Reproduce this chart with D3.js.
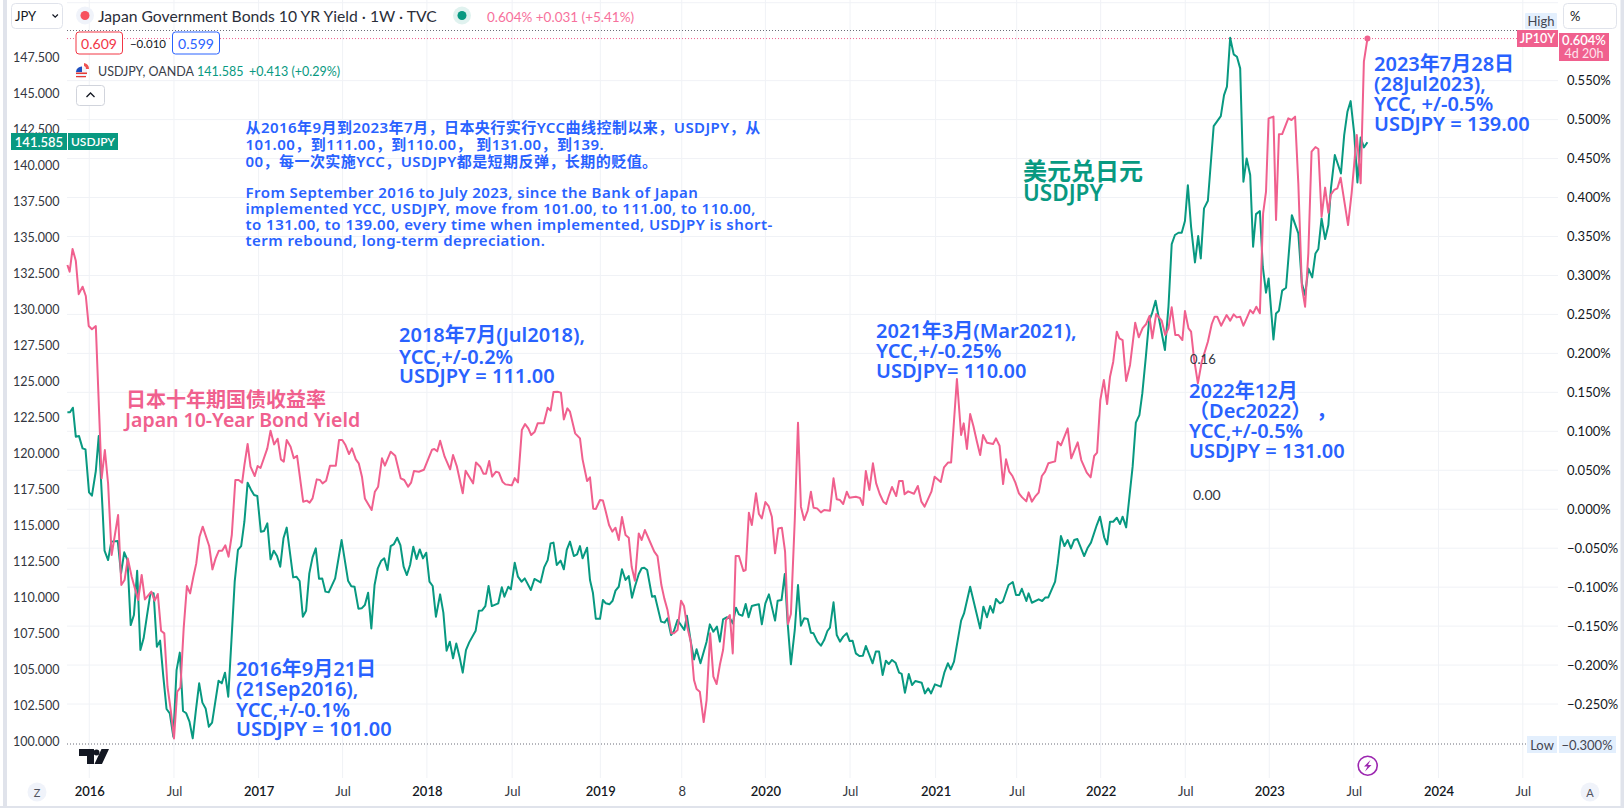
<!DOCTYPE html>
<html><head><meta charset="utf-8">
<script src="https://cdn.jsdelivr.net/npm/d3@7/dist/d3.min.js"></script>
<style>
html,body{margin:0;padding:0;background:#fff;overflow:hidden}
svg{display:block}
text{font-family:"Noto Sans","Noto Sans CJK SC",sans-serif}
</style></head><body><svg id="c" width="1624" height="808"></svg>
<script>
const jp10yWeeks=[0.4,1.1,2,3,3.9,5.1,6.1,7,8,9.2,11,12,13,14.1,16.1,17.1,18.1,19.1,20.3,22.3,23.4,24.4,26.4,27.4,28.4,29.4,30.4,31.4,32.4,33.4,34.4,35.4,36.4,37.4,38.4,39.4,40.3,41.3,42.3,44.3,45.3,46.3,47.3,48.3,49.3,50.3,51.3,52.4,53.4,54.5,55.2,56.2,57.1,58.4,59.3,60.2,62.3,63.3,64.4,65.5,66.5,67.4,68.3,69.5,70.5,71.5,73.4,74.5,75.4,76.3,77.6,78.6,79.4,80.5,81.7,83.5,84.5,85.5,86.5,87.6,88.5,89.7,90.6,91.6,92.5,94.6,95.6,96.6,97.8,98.7,100.5,101.9,103.6,104.7,105.9,106.8,107.7,109.2,110.8,112.2,113.3,114,114.9,115.8,117.2,118.9,119.8,121,122.8,123.7,126,126.9,128.2,129.2,130,131,131.9,133.1,134,135.1,136,138,138.9,139.9,141.1,142.1,143.1,144,145.1,146,147.9,149.1,150,150.9,152.1,153.2,154.1,155.2,156,157.6,159.1,159.9,161.3,162.2,163.2,164,165.3,166.2,167.1,168.1,169.1,170.1,171.1,172.1,173.2,174.2,175.1,176.1,177.3,178.2,179.2,180.1,182.1,183.1,184.3,185.2,186.2,187.4,188.2,189.3,190.4,191.3,192.3,193.4,194.4,195.2,196.2,197.4,198.3,199.4,200.4,201.4,202.4,203.4,204.3,205.5,206.4,207.3,208.3,209.7,210.4,211.4,212.3,213.6,214.5,215.4,216.5,217.5,218.5,219.5,220.5,221.6,222.6,223.5,224.4,225.6,226.6,227.5,228.5,229.6,230.6,231.4,232.5,233.7,234.7,236.5,237.6,238.6,239.6,240.6,241.7,242.5,244.5,245.8,246.7,247.6,248.7,249.8,250.8,251.9,253,253.9,254.8,255.7,257,257.9,259,259.6,260.7,262.5,263.7,264.8,265.8,267.9,268.9,270.8,271.8,273.1,274,275.8,277.1,277.9,278.9,279.9,280.9,282,283,283.9,285.1,287,287.9,289,290.1,291,292,293,293.9,295,296,297.3,298,299,300,301.1,302.1,303.1,304.1,306.2,307,308,310.1,311.2,313.2,314.3,316,317.2,318.3,319.2,320.2,321.3,322.3,323.2,324.2,325.3,326.1,327.1,328.2,329.4,331,332.1,333.3,334.4,335.4,336.3,337.5,339.2,340.3,341.3,342.3,343.4,344.4,345.6,346.4,347.5,348.3,349.2,350.4,351.6,353.5,354.7,355.6,356.4,357.6,359.3,360.4,361.5,362.4,363.5,364.5,365.5,366.6,367.5,368.5,369.6,370.6,371.5,372.3,373.8,374.6,375.5,376.5,378.4,379.4,380.5,381.5,382.6,383.6,384.6,385.6,386.8,387.7,388.7,389.8,390.8,391.5,392.6,393.6,394.6,396.9,398,399.6,400.8,401.8,402.9];
const jp10yValues=[.3134,.3048,.334,.319,.276,.2856,.2736,.2351,.2309,.2351,.0397,.076,.033,-.0588,-.0074,-.0973,-.0909,-.0631,-.0866,-.1165,-.0844,-.1157,-.1058,-.1174,-.1088,-.1559,-.1593,-.2278,-.2577,-.2941,-.2342,-.2286,-.1529,-.0986,-.108,-.0866,-.0695,-.0353,-.0224,-.0472,-.0772,-.0631,-.0532,-.0532,-.0464,-.0609,-.0331,.0375,.0375,.0341,.0567,.0837,.0546,.0426,.0554,.0529,.0781,.1008,.0832,.0905,.064,.061,.0888,.0803,.0653,.0687,.0097,.011,.0084,.0139,.0383,.0375,.0332,.0366,.0559,.0559,.0888,.0888,.0824,.0708,.0781,.064,.0589,.0418,.0139,-.001,.0225,.0289,.0653,.0559,.0738,.0687,.0396,.0375,.0289,.0341,.049,.0481,.0507,.0653,.0764,.0773,.0743,.088,.0674,.0512,.0696,.0546,.0204,.0495,.0332,.0601,.0546,.0456,.0456,.0619,.0418,.0482,.0469,.0353,.0319,.0306,.04,.0345,.1016,.1093,.1038,.0952,.0995,.1102,.1102,.1303,.1265,.1504,.1508,.1496,.1153,.1294,.1252,.0974,.0909,.064,.0362,.0409,.0007,.0003,.0118,.0113,-.0032,-.0203,-.0288,-.0237,-.0395,-.01,-.0331,-.0365,-.0738,-.0917,-.031,-.0395,-.0267,-.0353,-.0545,-.0601,-.0973,-.1144,-.1294,-.1593,-.1593,-.155,-.1174,-.1242,-.1508,-.17,-.2192,-.2307,-.2342,-.2731,-.2449,-.1593,-.2149,-.2243,-.2,-.1807,-.1422,-.1358,-.185,-.0601,-.0601,-.0793,-.078,-.0044,-.0203,.0204,-.0062,-.0117,.0092,.0041,-.0096,-.0566,-.0246,-.0237,-.0545,-.1473,-.1345,-.0139,.1111,.0033,-.0139,-.0019,.0225,.002,.0011,-.004,-.001,-.0019,.0396,.0127,.0118,.0067,.0225,.0148,.0161,.0144,.0054,.049,.0246,.0589,.0332,.0195,.0097,.0067,.0182,.0285,.0169,.0362,.0362,.0191,.0229,.0199,.0298,.0097,.0033,.0225,.0418,.0349,.0537,.0601,.0601,.1671,.0952,.1102,.0773,.1222,.1068,.0867,.0696,.0952,.0854,.0837,.0909,.0815,.0323,.064,.0482,.0426,.0341,.0204,.0152,.0101,.0216,.0097,.0161,.0212,.0426,.0482,.0589,.0614,.0867,.082,.1038,.0653,.0858,.0631,.0469,.0409,.0683,.0726,.1401,.1658,.135,.1701,.1893,.2278,.2193,.2171,.1645,.1851,.2394,.2206,.2325,.2377,.2479,.2193,.2505,.242,.2236,.2321,.2591,.2236,.2236,.2171,.2544,.2321,.2278,.1936,.1615,.1893,.215,.2377,.2471,.2471,.2355,.2492,.242,.2501,.2462,.2471,.2355,.245,.2556,.2514,.2599,.2514,.3797,.4075,.5016,.5038,.3712,.4811,.4815,.5016,.4995,.5038,.4182,.2856,.2599,.3284,.4589,.4648,.4623,.3754,.4127,.3806,.4032,.4097,.4118,.4255,.3647,.4054,.4803,.4182,.5744,.604];
const usdjpyWeeks=[0.4,1.2,2.1,3,4,5.1,6,7.1,8,9.2,10.1,11.3,11.9,13,14,16,17,18,19,20,21,22,23,24,25,26.1,27.1,28.1,29.1,30.1,31.1,32.1,33.2,34.2,35.2,36.2,37.2,38.2,39.2,40.2,41.2,42.2,43.2,44.2,45.2,46.2,47.2,48.2,49.2,50.2,51.2,52.2,53.2,54.2,55.2,56.2,57.2,58.2,59.2,60.3,61.3,62.3,63.3,64.3,65.3,66.3,67.3,68.3,70.3,71.3,72.3,73.3,74.3,75.3,76.3,77.3,78.3,79.3,80.3,81.3,83.3,85.3,87.3,88.3,89.3,90.5,91.5,92.5,93.5,94.5,95.5,96.5,97.5,98.5,99.5,100.5,101.5,102.5,103.5,104.5,105.5,106.5,107.5,108.5,109.5,110.5,111.5,112.5,113.5,114.5,115.8,116.8,117.8,118.8,119.8,120.8,121.8,122.8,123.8,124.8,126.8,127.8,128.8,129.8,130.8,131.8,133.8,134.9,135.7,136.9,137.7,138.9,139.9,141,142,143.9,145,146.9,148,149.1,150,150.9,151.9,153.1,154.1,155,156,157.2,158.2,159.1,159.9,161.3,162.2,163.1,164,165.3,166.2,167.1,168.2,169.2,170.1,171.1,172.1,173.2,174.2,175.2,176.1,177.3,178.2,179,179.9,181.4,182.3,184.2,185.3,186.2,187.3,188.1,189.3,191.4,192.2,193.4,194.4,195.2,196.4,198.3,199.3,200.4,201.5,202.4,203.4,204.5,205.5,206.4,207.4,208.3,209.4,210.4,211.3,212.3,213.4,214.5,215.4,216.5,217.6,219.5,220.3,221.5,222.5,223.4,224.4,225.6,226.6,227.5,228.5,229.6,230.6,231.4,232.6,233.7,234.7,235.7,236.5,237.6,238.6,239.6,240.6,241.7,242.6,243.5,244.5,245.6,246.7,247.6,249.7,250.7,251.7,252.8,253.8,254.7,255.7,256.8,257.9,258.7,259.7,260.9,261.9,262.9,264.9,265.9,266.9,267.8,269,270.8,271.9,273,273.9,274.9,277.1,278,279.9,283,284,285.1,286.1,287,287.9,289.1,290,291.8,293.1,294.1,295.1,295.9,297.3,298,299,301.1,302.2,303.2,304.1,306.2,307,308,309.1,310.1,311.1,312.1,313.1,315.2,316.3,317.3,319.1,320.1,321.4,322.3,323.2,324.2,325.3,326.3,327.1,328.2,330.2,331.2,332.3,333.2,334.3,335.3,336.2,337.3,340.2,341.3,342.3,343.3,344.4,345.4,346.4,347.3,348.3,349.5,350.5,351.3,352.3,353.5,355.3,357.5,358.5,359.4,360.4,361.5,362.5,363.5,364.5,365.5,366.6,367.5,368.4,369.6,370.5,371.5,372.3,373.8,374.6,375.5,376.5,377.7,379.5,381.5,382.6,383.6,384.6,385.8,386.8,387.7,388.7,389.8,390.8,391.6,392.8,394.7,395.7,396.7,397.7,398.8,399.8,400.8,401.8,402.9];
const usdjpyValues=[122.85,122.85,123.17,121.16,121.2,120.35,120.28,117.3,117.07,118.78,121.2,116.07,113.25,112.6,113.88,113.92,111.68,113.14,112.6,108.09,108.79,111.86,106.36,107.17,108.67,110.29,110.29,106.59,107.01,104.51,102.27,101.97,100.35,104.97,106.18,102.13,101.97,101.39,100.23,102.2,104.05,102.71,102.31,101.04,101.32,102.78,104.23,104.05,104.79,103.12,107.05,111.1,113.3,113.57,115.26,117.97,117.5,117.11,117.04,114.57,114.62,115.15,112.65,113.25,112.88,112.14,114.11,114.85,111.4,111.45,111.15,108.67,109.09,111.68,112.79,113.41,111.31,111.33,110.41,110.36,111.33,113.99,111.17,110.78,110.75,109.23,109.25,109.48,110.34,107.86,110.87,112.03,112.53,112.72,111.91,113.57,113.71,114.15,113.64,112.14,111.56,112.26,113.53,112.67,113.34,112.72,113.11,111.1,110.8,108.67,110.22,108.95,106.31,106.94,105.78,106.82,105.9,104.79,106.36,106.89,107.7,109.09,109.11,109.41,110.8,109.41,109.6,110.71,110.06,110.75,110.57,112.42,111.45,111.1,111.33,110.52,111.29,111.05,112.09,112.6,113.76,113.81,112.26,112.56,111.96,113.3,113.88,112.88,113,113.57,112.72,113.46,111.22,110.34,108.53,108.53,109.83,109.6,109.53,109.78,110.48,110.75,111.96,111.22,111.49,109.99,110.75,111.63,112.03,112.07,111.91,110.06,110.11,108.33,108.26,108.56,107.4,107.63,108.44,107.75,108.74,106.94,105.71,106.41,105.44,106.94,108.14,107.63,107.98,106.94,108.49,108.63,108.56,108.21,109.3,108.83,108.74,109.55,108.63,109.41,109.48,109.53,108.14,109.6,110.22,108.4,109.78,109.83,111.63,108.21,105.37,107.75,110.87,108.05,108.56,108.51,107.56,107.52,106.94,106.66,107.05,107.68,107.91,109.67,107.4,106.94,107.29,107.52,106.98,107.01,106.13,105.94,105.97,106.64,105.44,106.25,106.25,104.63,105.62,105.39,105.67,105.48,104.79,104.7,103.4,104.7,103.93,104.21,104.09,103.35,103.7,103.35,103.98,103.82,104.79,105.44,105.02,105.55,108.4,108.9,110.75,107.86,109.37,108.63,109.41,108.95,109.9,109.6,109.71,110.87,111.08,110.18,110.18,110.61,109.76,110.29,109.64,109.88,109.76,110.01,110.01,111.1,112.37,114.27,113.57,113.99,113.41,113.99,114.06,112.88,113.46,113.81,115.03,115.61,114.18,113.69,115.26,115.26,115.54,115.1,115.61,114.87,119.08,122.13,122.66,124.16,126.71,129.2,129.71,130.59,127.17,130.18,134.52,135.15,135.31,135.31,136.12,138.61,135.72,133.25,135.08,133.53,137,137.53,142.71,143.4,144.86,145.44,148.83,147.68,147.52,146.71,138.85,140.46,139.31,134.34,136.6,136.81,132.95,131.15,132.14,127.91,129.71,129.9,131.29,131.49,136.53,135.26,131.79,130.98,132.83,132.21,133.87,134.18,136.3,134.87,135.84,138.38,140.7,139.42,142.08,143.7,144.44,142.2,138.8,141.92,141.23,141.585];
const priceTicks=[100,102.5,105,107.5,110,112.5,115,117.5,120,122.5,125,127.5,130,132.5,135,137.5,140,142.5,145,147.5];
const yieldTicks=[0.55,0.5,0.45,0.4,0.35,0.3,0.25,0.2,0.15,0.1,0.05,0,-0.05,-0.1,-0.15,-0.2,-0.25];
const yieldGridExtra=[0.65];
const timeTickWeeks=[7.18,33.4,59.6,85.6,111.7,138.1,165.4,190.6,216.5,242.7,269.2,294.3,320.3,346.5,372.5,398.7,424.9,451];
const timeTickLabels=["2016","Jul","2017","Jul","2018","Jul","2019","8","2020","Jul","2021","Jul","2022","Jul","2023","Jul","2024","Jul"];
const yearLabels=new Set(["2016","2017","2018","2019","2020","2021","2022","2023","2024"]);

const svg=d3.select("#c");
const x=d3.scaleLinear().domain([0,451]).range([66.1,1522.8]);
const yL=d3.scaleLinear().domain([100,147.5]).range([741.7,57]);
const yR=d3.scaleLinear().domain([-0.3,0.5]).range([743,119.6]);
const PANE_L=67,PANE_R=1558,PANE_B=778;
const INK="#131722",GREEN="#089981",PINK="#f0608e",BLUE="#2962ff",GRID="#f0f2f6",STRIP="#e0e3eb",PILL="#e3effd";

svg.append("rect").attr("width",1624).attr("height",808).attr("fill","#fff");
// grid
const g=svg.append("g");
g.selectAll(".v").data(timeTickWeeks).join("line").attr("x1",d=>x(d)).attr("x2",d=>x(d)).attr("y1",0).attr("y2",PANE_B).attr("stroke",GRID);
g.selectAll(".h").data(yieldTicks.concat(yieldGridExtra)).join("line").attr("x1",PANE_L).attr("x2",PANE_R).attr("y1",d=>yR(d)).attr("y2",d=>yR(d)).attr("stroke",GRID);

// high/low dotted
function dotted(y,x2,c){svg.append("line").attr("x1",PANE_L).attr("x2",x2).attr("y1",y).attr("y2",y).attr("stroke",c).attr("stroke-dasharray","1 2");}
dotted(30.5,1518,"#6a6d78");
dotted(744,1527,"#6a6d78");
dotted(yR(0.604),1518,PINK);

// lines
const lineL=d3.line().x(d=>x(d[0])).y(d=>yL(d[1]));
const lineR=d3.line().x(d=>x(d[0])).y(d=>yR(d[1]));
svg.append("path").datum(d3.zip(usdjpyWeeks,usdjpyValues)).attr("d",lineL).attr("fill","none").attr("stroke",GREEN).attr("stroke-width",2).attr("stroke-linejoin","round");
svg.append("path").datum(d3.zip(jp10yWeeks,jp10yValues)).attr("d",lineR).attr("fill","none").attr("stroke",PINK).attr("stroke-width",2).attr("stroke-linejoin","round");
svg.append("circle").attr("cx",x(jp10yWeeks[jp10yWeeks.length-1])).attr("cy",yR(0.604)).attr("r",3).attr("fill",PINK);

// axes
const AF="Lato, 'Noto Sans', sans-serif";
const axL=svg.append("g").attr("transform","translate(59.5,0)").call(d3.axisLeft(yL).tickValues(priceTicks).tickSize(0).tickPadding(0).tickFormat(d=>d.toFixed(3)));
const axR=svg.append("g").attr("transform","translate(1567,0)").call(d3.axisRight(yR).tickValues(yieldTicks).tickSize(0).tickPadding(0).tickFormat(d=>d3.format(".3f")(d).replace("-","−")+"%"));
const axX=svg.append("g").attr("transform","translate(0,786.5)").call(d3.axisBottom(x).tickValues(timeTickWeeks).tickSize(0).tickPadding(0).tickFormat((d,i)=>timeTickLabels[i]));
[axL,axR,axX].forEach(a=>{a.select(".domain").remove();a.selectAll("text").attr("font-size",13).attr("fill",INK).style("font-family",AF);});
axL.selectAll("text").attr("fill","#333640").attr("font-size",12.5);
axX.selectAll("text").each(function(d,i){d3.select(this).attr("font-weight",yearLabels.has(timeTickLabels[i])?600:400).attr("fill",yearLabels.has(timeTickLabels[i])?INK:"#333640");});

function T(t,px,py,o={}){return svg.append("text").text(t).attr("x",px).attr("y",py).attr("dominant-baseline","central")
 .attr("font-size",o.s||13).attr("fill",o.c||INK).attr("font-weight",o.w||400).attr("text-anchor",o.a||"start").attr("letter-spacing",o.ls||0).style("font-family",o.f||AF).attr("xml:space","preserve");}
function R(px,py,w,h,o={}){return svg.append("rect").attr("x",px).attr("y",py).attr("width",w).attr("height",h).attr("rx",o.r||0).attr("fill",o.f||"#fff").attr("stroke",o.s||"none");}

// frame
R(3,0,4,808,{f:STRIP});R(0,806,1624,2,{f:STRIP});R(1620.5,0,3.5,808,{f:STRIP});

// header
R(11.5,3.5,51,25,{s:STRIP,r:4});T("JPY",15,16,{s:13});
svg.append("path").attr("d","M52.5 14.5l2.7 2.7 2.7-2.7").attr("fill","none").attr("stroke",INK).attr("stroke-width",1.2);
svg.append("circle").attr("cx",85).attr("cy",15.5).attr("r",9).attr("fill","#f0f3fa");
svg.append("circle").attr("cx",85).attr("cy",15.5).attr("r",4.5).attr("fill","#f7525f");
T("Japan Government Bonds 10 YR Yield · 1W · TVC",98,16,{s:15.7,c:"#2a2e39"});
svg.append("circle").attr("cx",462).attr("cy",15.5).attr("r",9).attr("fill","#e0f2ef");
svg.append("circle").attr("cx",462).attr("cy",15.5).attr("r",4.5).attr("fill",GREEN);
T("0.604% +0.031 (+5.41%)",487,17,{s:13.5,c:"#f7719c"});
R(76,32,46.5,22,{s:"#f23645",r:3});T("0.609",99,43.5,{s:14,c:"#f23645",a:"middle"});
T("−0.010",148,43,{s:11.5,a:"middle"});
R(172.5,32,47,22,{s:BLUE,r:3});T("0.599",196,43.5,{s:14,c:BLUE,a:"middle"});
// flag
svg.append("circle").attr("cx",81.5).attr("cy",72.5).attr("r",6).attr("fill","#f0f3fa");
svg.append("path").attr("d","M76 72.5h11v1.5h-11z M76 76h10v1.3h-10z").attr("fill","#e53935");
svg.append("path").attr("d","M76 72a5.8 5.8 0 0 1 6-5.5v5.5z").attr("fill","#1e4fbf");
svg.append("path").attr("d","M84 63a6 6 0 0 1 5 6l-3 0a3 3 0 0 0-2-3z").attr("fill","#ef5350");
T("USDJPY, OANDA",98,71.5,{s:12.5,c:"#3a3e4a"});
T("141.585",197,71.5,{s:12.5,c:GREEN});
T("+0.413 (+0.29%)",249,71.5,{s:12.5,c:GREEN});
R(76.5,85.5,28,20,{s:"#d1d4dc",r:3});
svg.append("path").attr("d","M86.5 97l4-4 4 4").attr("fill","none").attr("stroke",INK).attr("stroke-width",1.3);

// price tag left
R(11,133,56,17,{f:GREEN});T("141.585",39,141.5,{s:13,c:"#fff",a:"middle",w:600});
R(68,133,50,17,{f:GREEN});T("USDJPY",93,141.5,{s:12,c:"#fff",a:"middle",w:600});

// right pills
R(1525,13,32,16,{f:PILL,r:1});T("High",1541,21,{s:13,c:"#434651",a:"middle"});
R(1563.5,3.5,53,25,{s:STRIP,r:4});T("%",1570,16,{s:13});
R(1517,30,41,17,{f:PINK});T("JP10Y",1537.5,38.5,{s:12.5,c:"#fff",a:"middle",w:600});
R(1559,33,50,28,{f:PINK});T("0.604%",1584,39.5,{s:13,c:"#fff",a:"middle",w:600});T("4d 20h",1584,53,{s:12.5,c:"#fde4ed",a:"middle"});
R(1527,736,30,17,{f:PILL});T("Low",1542,744.5,{s:13,c:"#434651",a:"middle"});
R(1559,736,57,17,{f:PILL});T("−0.300%",1587,744.5,{s:13,c:"#434651",a:"middle"});

// TV logo
svg.append("path").attr("d","M79 749h15v15h-7v-8h-8z M109 749l-7 15h-7.5l7-15z").attr("fill",INK);
svg.append("circle").attr("cx",96.5).attr("cy",752.5).attr("r",3).attr("fill",INK);

// bottom icons
svg.append("circle").attr("cx",37).attr("cy",792).attr("r",9.5).attr("fill","#f0f3fa");T("Z",37,792.5,{s:11,c:"#50535e",a:"middle"});
svg.append("circle").attr("cx",1590).attr("cy",792).attr("r",9.5).attr("fill","#f0f3fa");T("A",1590,792.5,{s:11,c:"#50535e",a:"middle"});
svg.append("circle").attr("cx",1367.7).attr("cy",765.7).attr("r",9.5).attr("fill","#fff").attr("stroke","#9c27b0").attr("stroke-width",1.6);
svg.append("path").attr("d","M1370.5 760l-6.5 6.5h3.5l-2.5 5 6.5-6.5h-3.5z").attr("fill","#9c27b0");

// annotations
const CF='"Noto Sans","Noto Sans CJK SC",sans-serif';
function block(lines,px,ys,s,c,w,ls){lines.forEach((l,i)=>T(l,px,ys[i],{s:s,c:c,w:w||600,f:CF,ls:ls||0}));}
block(["从2016年9月到2023年7月，日本央行实行YCC曲线控制以来，USDJPY，从","101.00，到111.00，到110.00， 到131.00，到139.","00，每一次实施YCC，USDJPY都是短期反弹，长期的贬值。","From September 2016 to July 2023, since the Bank of Japan","implemented YCC, USDJPY, move from 101.00, to 111.00, to 110.00,","to 131.00, to 139.00, every time when implemented, USDJPY is short-","term rebound, long-term depreciation."],245.5,[127,144,160.5,191.5,207.5,223.7,239.7],15,BLUE,600,0.45);
block(["2016年9月21日","(21Sep2016),","YCC,+/-0.1%","USDJPY = 101.00"],236,[668,688,709,728],20,BLUE);
block(["2018年7月(Jul2018),","YCC,+/-0.2%","USDJPY = 111.00"],399,[334,356,375],20,BLUE);
block(["2021年3月(Mar2021),","YCC,+/-0.25%","USDJPY= 110.00"],876,[330,350,370],20,BLUE);
block(["2022年12月","（Dec2022） ，","YCC,+/-0.5%","USDJPY = 131.00"],1189,[390,410,430,450],20,BLUE);
block(["2023年7月28日","(28Jul2023),","YCC, +/-0.5%","USDJPY = 139.00"],1374,[63,83,103,123],20,BLUE);
T("美元兑日元",1023,170.5,{s:24,c:GREEN,w:600,f:CF});
T("USDJPY",1023,192.5,{s:22.5,c:GREEN,w:600,f:CF});
T("日本十年期国债收益率",126,399,{s:20,c:PINK,w:600,f:CF});
T("Japan 10-Year Bond Yield",125,419,{s:19.5,c:PINK,w:600,f:CF});
T("0.16",1190,359,{s:13,c:"#333640"});
T("0.00",1193,494,{s:14,c:"#333640"});
</script></body></html>
